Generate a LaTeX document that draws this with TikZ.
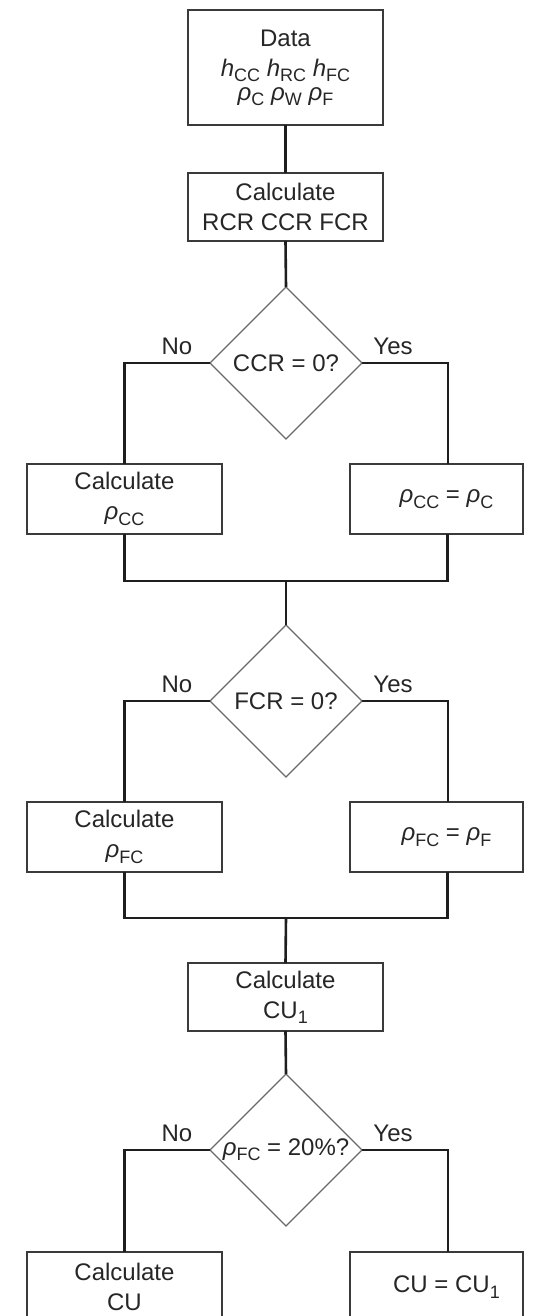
\documentclass[tikz,border=0pt]{standalone}
\usepackage{fontspec}
\setmainfont{Liberation Sans}
\usetikzlibrary{shapes.geometric,calc}
\definecolor{txt}{HTML}{262626}
\definecolor{boxc}{HTML}{3A3A3A}
\definecolor{diac}{HTML}{6A6A6A}
\definecolor{linec}{HTML}{1E1E1E}
\newcommand\sbs[1]{\raisebox{-0.42ex}{\fontsize{18}{18}\selectfont #1}}
\newcommand\rh{{\itshape ρ}}
\newcommand\hh{{\itshape h}}
\begin{document}
\begin{tikzpicture}[x=1pt,y=-1pt,
  every node/.style={font=\fontsize{24}{30}\selectfont, text=txt},
  box/.style={draw=boxc, line width=1.2pt, rectangle, minimum width=195pt, minimum height=70pt, inner sep=0pt, outer sep=0pt, align=center},
  rbox/.style={box, minimum width=173pt},
  dia/.style={draw=diac, line width=1.1pt, diamond, minimum width=152pt, minimum height=152pt, inner sep=0pt, outer sep=0pt},
  conn/.style={line width=2.6pt, draw=linec},
  lbl/.style={inner sep=0pt}
]
\useasboundingbox (0,0) rectangle (534,1316);
\clip (0,0) rectangle (534,1316);

\node[box, minimum height=115pt] (data) at (285.5,67.5) {Data\\ \hh\sbs{CC} \hh\sbs{RC} \hh\sbs{FC}\\[-6pt] \rh\sbs{C} \rh\sbs{W} \rh\sbs{F}};
\node[box, minimum height=68pt] (calc1) at (285.5,207) {Calculate\\RCR CCR FCR};
\node[dia] (d1) at (286,363) {\makebox[0pt]{CCR = 0?}};
\node[box] (b1L) at (124.5,499) {Calculate\\\rh\sbs{CC}};
\node[rbox] (b1R) at (436.5,499) {\hspace*{20pt}\rh\sbs{CC} = \rh\sbs{C}};
\coordinate (m1) at (286,581);
\node[dia] (d2) at (286,701) {\makebox[0pt]{FCR = 0?}};
\node[box] (b2L) at (124.5,837) {Calculate\\\rh\sbs{FC}};
\node[rbox] (b2R) at (436.5,837) {\hspace*{20pt}\rh\sbs{FC} = \rh\sbs{F}};
\coordinate (m2) at (286,918);
\node[box, minimum height=68pt] (calc2) at (285.5,997) {Calculate\\CU\sbs{1}};
\node[dia] (d3) at (286,1150) {\makebox[0pt]{\rh\sbs{FC} = 20\%?}};
\node[box] (b3L) at (124.5,1287) {Calculate\\CU};
\node[rbox] (b3R) at (436.5,1287) {\hspace*{20pt}CU = CU\sbs{1}};

\foreach \d in {d1,d2,d3}{
  \node[lbl] (no\d) at ($(\d.west)+(-33,-17)$) {No};
  \node[lbl] (yes\d) at ($(\d.east)+(31,-17)$) {Yes};
}

\draw[conn] (data.south) -- (calc1.north);
\draw[conn] (calc1.south) -- (d1.north);
\draw[conn] (d1.west) -| (b1L.north);
\draw[conn] (d1.east) -- ++(86,0) coordinate (r1) -- (r1 |- b1R.north);
\draw[conn] (b1L.south) |- (m1) -| ($(b1R.south)+(11,0)$);
\draw[conn] (m1) -- (d2.north);
\draw[conn] (d2.west) -| (b2L.north);
\draw[conn] (d2.east) -- ++(86,0) coordinate (r2) -- (r2 |- b2R.north);
\draw[conn] (b2L.south) |- (m2) -| ($(b2R.south)+(11,0)$);
\draw[conn] (m2) -- (calc2.north);
\draw[conn] (calc2.south) -- (d3.north);
\draw[conn] (d3.west) -| (b3L.north);
\draw[conn] (d3.east) -- ++(86,0) coordinate (r3) -- (r3 |- b3R.north);
\end{tikzpicture}
\end{document}
